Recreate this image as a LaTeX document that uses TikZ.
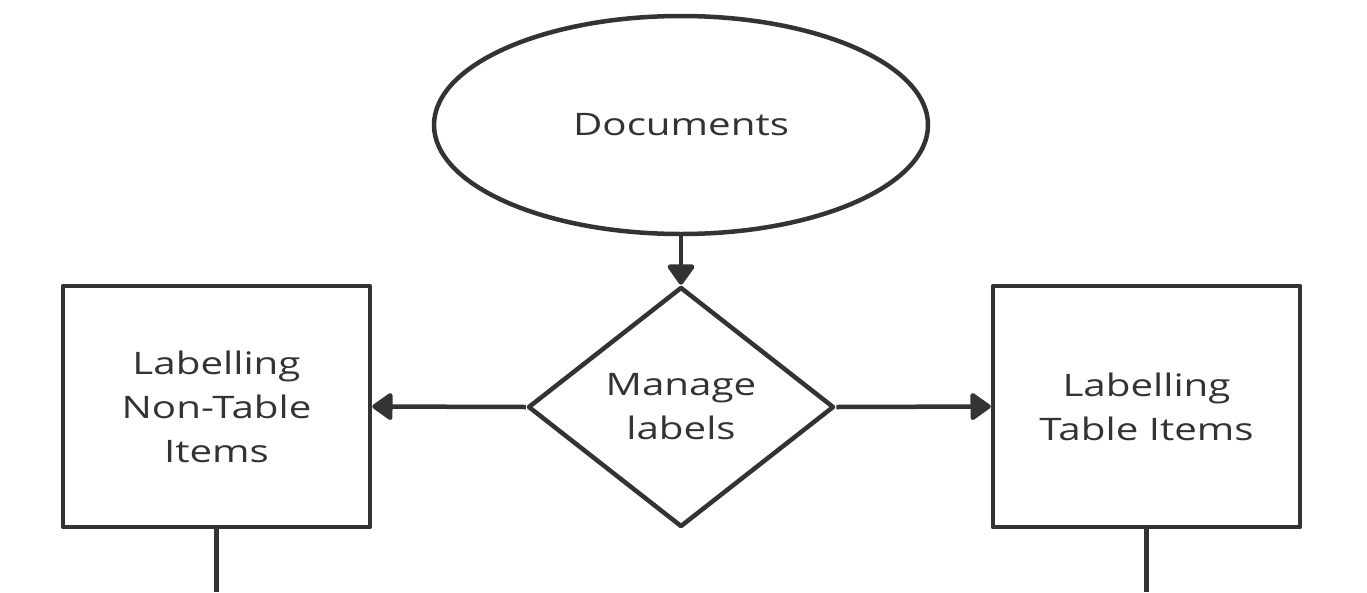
\documentclass[tikz,border=0pt]{standalone}
\usepackage{fontspec}
\setmainfont[FakeStretch=1.3]{Open Sans}
\usetikzlibrary{shapes.geometric,arrows.meta}
\definecolor{ink}{HTML}{333333}
\begin{document}
\begin{tikzpicture}[x=1pt,y=-1pt,
  every node/.style={font=\fontsize{31}{44}\selectfont, text=ink, align=center},
  shapeline/.style={draw=ink, line width=4.5pt, line join=round, fill=white},
  link/.style={draw=ink, line width=4.5pt, -{Triangle[length=22pt,width=30pt,round]}},
  plain/.style={draw=ink, line width=4.5pt}]
\useasboundingbox (0,0) rectangle (1367,592);
\node[shapeline, ellipse, minimum width=494pt, minimum height=218pt, inner sep=0pt] (doc) at (681,125) {Documents};
\node[shapeline, diamond, aspect=1.27, minimum width=306pt, minimum height=240pt, inner sep=0pt] (mgr) at (681,407) {Manage\\labels};
\node[shapeline, rectangle, minimum width=307pt, minimum height=241pt, inner sep=0pt] (non) at (216.5,406.5) {Labelling\\Non-Table\\Items};
\node[shapeline, rectangle, minimum width=307pt, minimum height=241pt, inner sep=0pt] (tab) at (1146.5,406.5) {Labelling\\Table Items};
\coordinate (nonend) at (216.5,592);
\coordinate (tabend) at (1146.5,592);
\draw[link] (doc.south) -- (mgr.north);
\draw[link] (mgr.west) -- (non.east);
\draw[link] (mgr.east) -- (tab.west);
\draw[plain] (non.south) -- (nonend);
\draw[plain] (tab.south) -- (tabend);
\end{tikzpicture}
\end{document}
